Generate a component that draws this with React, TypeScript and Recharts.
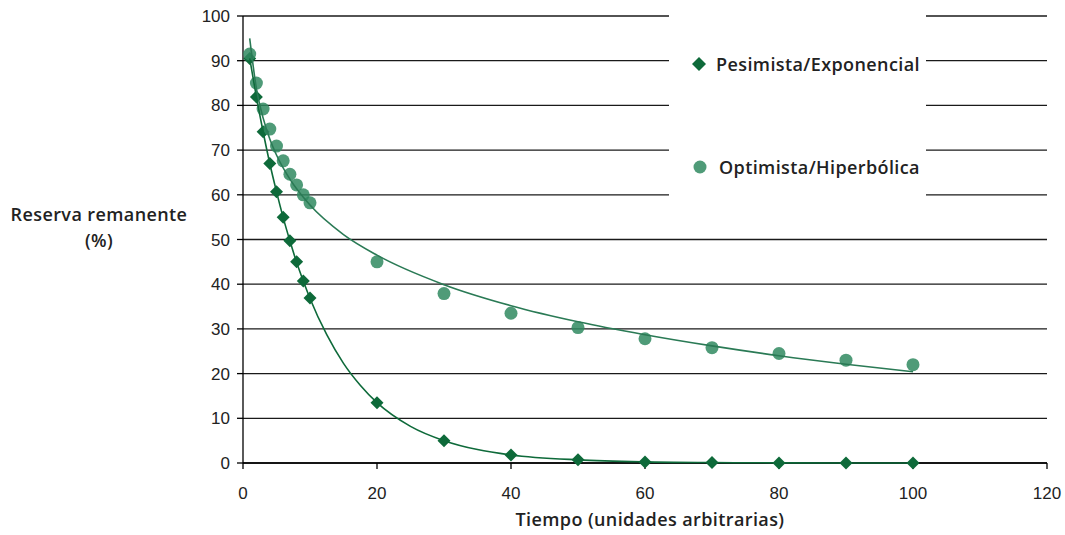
import React from "react";
import {
  CartesianGrid,
  Scatter,
  ScatterChart,
  XAxis,
  YAxis,
} from "recharts";

// Pesimista / exponencial: puntos
const PESIMISTA_X = [1, 2, 3, 4, 5, 6, 7, 8, 9, 10, 20, 30, 40, 50, 60, 70, 80, 90, 100];
const PESIMISTA_Y = [90.5, 81.9, 74.1, 67, 60.7, 55, 49.7, 45, 40.7, 36.9, 13.5, 5, 1.8, 0.7, 0.25, 0.1, 0, 0, 0];

// Optimista / hiperbólica
const OPTIMISTA_X = [1, 2, 3, 4, 5, 6, 7, 8, 9, 10, 20, 30, 40, 50, 60, 70, 80, 90, 100];
const OPTIMISTA_Y = [91.5, 85, 79.2, 74.7, 70.9, 67.6, 64.6, 62.2, 60, 58.2, 45, 37.9, 33.5, 30.3, 27.8, 25.8, 24.5, 23, 22];

// líneas de tendencia, valores leídos a lo largo de cada curva
const TREND_EXP_X = [1, 2, 3, 4, 5, 6, 7, 8, 9, 10, 12.5, 15, 17.5, 20, 25, 30, 35, 40, 50, 60, 70, 80, 100];
const TREND_EXP_Y = [90.5, 81.9, 74.1, 67, 60.7, 54.9, 49.7, 44.9, 40.7, 36.8, 28.7, 22.3, 17.4, 13.5, 8.2, 5, 3, 1.8, 0.7, 0.25, 0.1, 0.03, 0];
const TREND_LOG_X = [1, 2, 3, 4, 5, 7, 10, 15, 20, 30, 40, 50, 60, 70, 80, 90, 100];
const TREND_LOG_Y = [95, 83.8, 77.2, 72.5, 68.9, 63.5, 57.7, 51.1, 46.5, 39.9, 35.2, 31.6, 28.7, 26.2, 24, 22.1, 20.4];

const X_TICKS = [0, 20, 40, 60, 80, 100, 120];
const Y_TICKS = [0, 10, 20, 30, 40, 50, 60, 70, 80, 90, 100];

const DARK = "#0e6a3a";
const LIGHT = "#308a60";
const LINE = "#2a7a55";
const TEXT = "#222";
const TITLE_FONT = "'Open Sans', sans-serif";

const titleStyle: React.CSSProperties = {
  fontFamily: TITLE_FONT,
  fontWeight: 600,
  fontSize: 18,
  letterSpacing: 0.4,
  color: TEXT,
  whiteSpace: "nowrap",
};

const zip = (xs: number[], ys: number[]) => xs.map((x, i) => ({ x, y: ys[i] }));

const pesimista = zip(PESIMISTA_X, PESIMISTA_Y);
const optimista = zip(OPTIMISTA_X, OPTIMISTA_Y);
const trendExp = zip(TREND_EXP_X, TREND_EXP_Y);
const trendLog = zip(TREND_LOG_X, TREND_LOG_Y);

function Diamond(props: any) {
  const { cx, cy } = props;
  const r = 6.5;
  return (
    <polygon
      points={`${cx},${cy - r} ${cx + r},${cy} ${cx},${cy + r} ${cx - r},${cy}`}
      fill={DARK}
    />
  );
}

function Dot(props: any) {
  const { cx, cy } = props;
  return <circle cx={cx} cy={cy} r={6.5} fill={LIGHT} fillOpacity={0.85} />;
}

const Nothing = () => <g />;

export default function App() {
  return (
    <div
      style={{
        position: "absolute",
        left: 0,
        top: 0,
        width: 1065,
        height: 535,
        background: "#fff",
      }}
    >
      <ScatterChart
        width={1065}
        height={535}
        margin={{ top: 16, right: 18, bottom: 0, left: 0 }}
      >
        <CartesianGrid vertical={false} stroke="#1a1a1a" strokeWidth={1.3} />
        <XAxis
          type="number"
          dataKey="x"
          domain={[0, 120]}
          ticks={X_TICKS}
          height={72}
          tickSize={6}
          tickMargin={18}
          stroke="#000"
          strokeWidth={1.3}
          tick={{ fill: TEXT, fontSize: 17, fontFamily: "'Liberation Sans', Arial, sans-serif" }}
        />
        <YAxis
          type="number"
          dataKey="y"
          domain={[0, 100]}
          ticks={Y_TICKS}
          width={243}
          tickSize={6}
          tickMargin={7}
          stroke="#000"
          strokeWidth={1.3}
          tick={{ fill: TEXT, fontSize: 17, fontFamily: "'Liberation Sans', Arial, sans-serif" }}
        />
        <Scatter data={pesimista} shape={Diamond} isAnimationActive={false} />
        <Scatter data={optimista} shape={Dot} isAnimationActive={false} />
        <Scatter
          data={trendExp}
          shape={Nothing}
          line={{ stroke: DARK, strokeWidth: 1.6 }}
          lineJointType="monotoneX"
          isAnimationActive={false}
        />
        <Scatter
          data={trendLog}
          shape={Nothing}
          line={{ stroke: LINE, strokeWidth: 1.6 }}
          lineJointType="monotoneX"
          isAnimationActive={false}
        />
      </ScatterChart>

      {/* cuadro de leyenda que tapa la cuadrícula */}
      <div
        style={{
          position: "absolute",
          left: 669,
          top: 10,
          width: 257,
          height: 205,
          background: "#fff",
          ...titleStyle,
        }}
      >
        <div style={{ position: "absolute", left: 23, top: 42, display: "flex", alignItems: "center" }}>
          <svg width={14} height={14} style={{ marginRight: 10 }}>
            <polygon points="7,0 14,7 7,14 0,7" fill={DARK} />
          </svg>
          <span>Pesimista/Exponencial</span>
        </div>
        <div style={{ position: "absolute", left: 24, top: 145, display: "flex", alignItems: "center" }}>
          <svg width={14} height={14} style={{ marginRight: 12 }}>
            <circle cx={7} cy={7} r={6.5} fill={LIGHT} fillOpacity={0.85} />
          </svg>
          <span>Optimista/Hiperbólica</span>
        </div>
      </div>

      <div
        style={{
          position: "absolute",
          left: 0,
          top: 201,
          width: 198,
          textAlign: "center",
          lineHeight: "26px",
          ...titleStyle,
        }}
      >
        Reserva remanente
        <br />
        (%)
      </div>
      <div
        style={{
          position: "absolute",
          left: 400,
          top: 507,
          width: 500,
          textAlign: "center",
          ...titleStyle,
        }}
      >
        Tiempo (unidades arbitrarias)
      </div>
    </div>
  );
}
